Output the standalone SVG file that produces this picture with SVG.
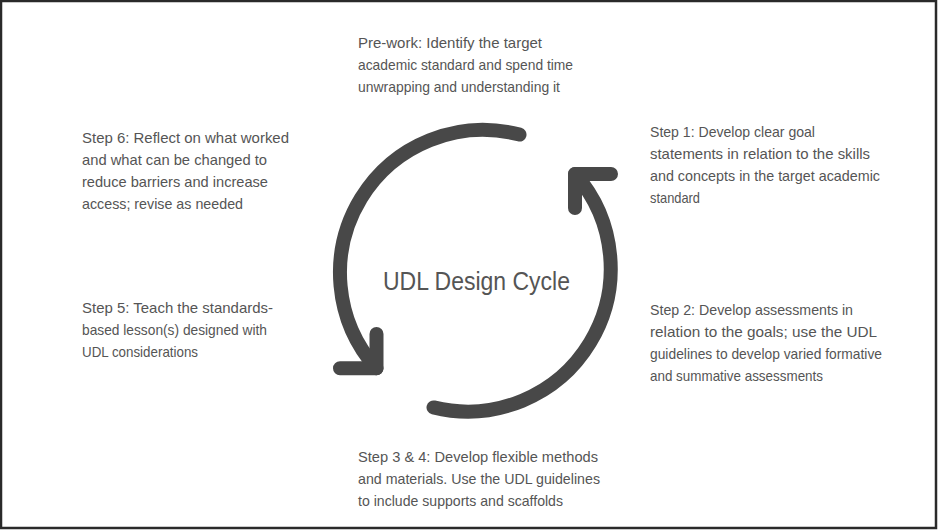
<svg xmlns="http://www.w3.org/2000/svg" width="938" height="530" viewBox="0 0 938 530">
<style>
.t{font-family:"Liberation Sans",Arial,sans-serif;font-size:15px;fill:#555555}
.title{font-family:"Liberation Sans",Arial,sans-serif;font-size:25px;fill:#555555}
.arc{fill:none;stroke:#484848;stroke-width:14;stroke-linecap:round;stroke-linejoin:round}
</style>
<rect x="1" y="1" width="935" height="527" fill="#ffffff" stroke="#2a2a2a" stroke-width="2.5"/>
<g id="connectors">
<path class="arc" d="M519.5,134.6 A143,143 0 0 0 376.5,368.3"/>
<path class="arc" d="M376.5,334 L376.5,368.3 L340,368.3"/>
<path class="arc" d="M433.5,407.4 A143,143 0 0 0 575,174"/>
<path class="arc" d="M575,208 L575,174 L611,174"/>
</g>
<g id="title">
<text class="title" x="383" y="290" textLength="187" lengthAdjust="spacingAndGlyphs">UDL Design Cycle</text>
</g>
<g id="prework">
<text class="t" x="358" y="48" textLength="184" lengthAdjust="spacingAndGlyphs">Pre-work: Identify the target</text>
<text class="t" x="358" y="70" textLength="215" lengthAdjust="spacingAndGlyphs">academic standard and spend time</text>
<text class="t" x="358" y="92" textLength="202" lengthAdjust="spacingAndGlyphs">unwrapping and understanding it</text>
</g>
<g id="step1">
<text class="t" x="650" y="137" textLength="165" lengthAdjust="spacingAndGlyphs">Step 1: Develop clear goal</text>
<text class="t" x="650" y="159" textLength="220" lengthAdjust="spacingAndGlyphs">statements in relation to the skills</text>
<text class="t" x="650" y="181" textLength="230" lengthAdjust="spacingAndGlyphs">and concepts in the target academic</text>
<text class="t" x="650" y="203" textLength="50" lengthAdjust="spacingAndGlyphs">standard</text>
</g>
<g id="step2">
<text class="t" x="650" y="315" textLength="203" lengthAdjust="spacingAndGlyphs">Step 2: Develop assessments in</text>
<text class="t" x="650" y="337" textLength="227" lengthAdjust="spacingAndGlyphs">relation to the goals; use the UDL</text>
<text class="t" x="650" y="359" textLength="232" lengthAdjust="spacingAndGlyphs">guidelines to develop varied formative</text>
<text class="t" x="650" y="381" textLength="173" lengthAdjust="spacingAndGlyphs">and summative assessments</text>
</g>
<g id="step34">
<text class="t" x="358" y="462" textLength="240" lengthAdjust="spacingAndGlyphs">Step 3 &amp; 4: Develop flexible methods</text>
<text class="t" x="358" y="484" textLength="242" lengthAdjust="spacingAndGlyphs">and materials. Use the UDL guidelines</text>
<text class="t" x="358" y="506" textLength="205" lengthAdjust="spacingAndGlyphs">to include supports and scaffolds</text>
</g>
<g id="step5">
<text class="t" x="82" y="313" textLength="191" lengthAdjust="spacingAndGlyphs">Step 5: Teach the standards-</text>
<text class="t" x="82" y="335" textLength="185" lengthAdjust="spacingAndGlyphs">based lesson(s) designed with</text>
<text class="t" x="82" y="357" textLength="116" lengthAdjust="spacingAndGlyphs">UDL considerations</text>
</g>
<g id="step6">
<text class="t" x="82" y="143" textLength="207" lengthAdjust="spacingAndGlyphs">Step 6: Reflect on what worked</text>
<text class="t" x="82" y="165" textLength="185" lengthAdjust="spacingAndGlyphs">and what can be changed to</text>
<text class="t" x="82" y="187" textLength="186" lengthAdjust="spacingAndGlyphs">reduce barriers and increase</text>
<text class="t" x="82" y="209" textLength="161" lengthAdjust="spacingAndGlyphs">access; revise as needed</text>
</g>
</svg>
